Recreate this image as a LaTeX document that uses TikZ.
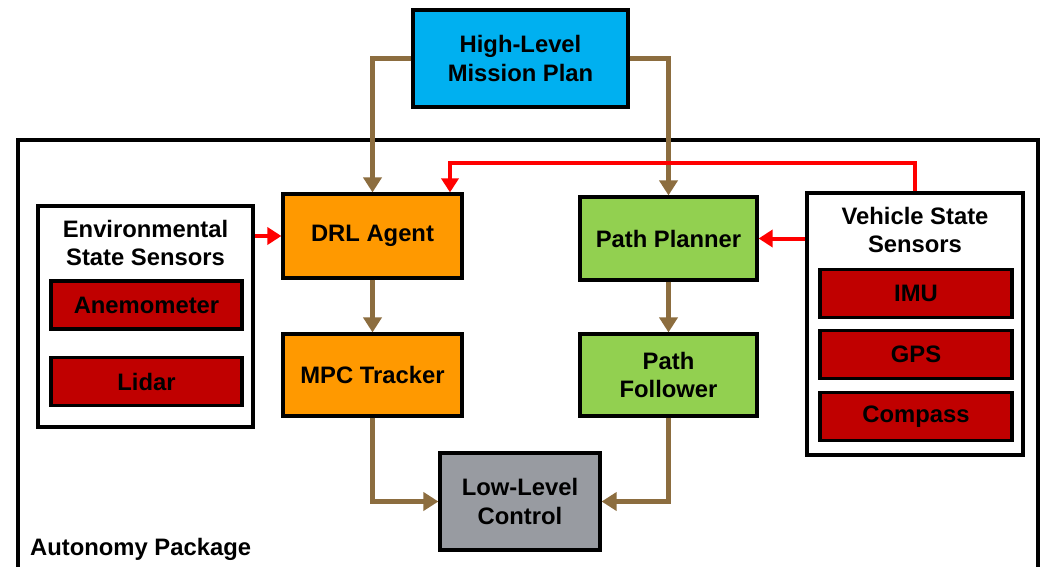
\documentclass[tikz,border=0pt]{standalone}
\usepackage{fontspec}
\setmainfont{Liberation Sans}
\usetikzlibrary{arrows.meta}
\definecolor{cmission}{HTML}{00B0F0}
\definecolor{corange}{HTML}{FF9900}
\definecolor{cgreen}{HTML}{92D050}
\definecolor{cgray}{HTML}{989BA1}
\definecolor{cdred}{HTML}{C00000}
\definecolor{cbrown}{HTML}{8C6D3F}
\definecolor{cred}{HTML}{FF0000}
\tikzset{
  txt/.style={font=\fontsize{23.8}{28.5}\selectfont\bfseries},
  box/.style={draw=black, line width=3.2pt, align=center, txt, inner sep=0pt},
  sensor/.style={box, fill=cdred, minimum width=191pt, minimum height=48pt},
  brownarrow/.style={draw=cbrown, line width=4.5pt, -{Triangle[length=15pt,width=18pt]}},
  redarrow/.style={draw=cred, line width=4pt, -{Triangle[length=14pt,width=17pt]}},
}
\begin{document}
\begin{tikzpicture}[x=1pt,y=-1pt]
\useasboundingbox (0,0) rectangle (1046,567);
% outer package box
\draw[line width=4pt] (18,570) -- (18,140) -- (1038,140) -- (1038,570);
\node[anchor=west, txt, inner sep=0pt] (pkg) at (30,549) {Autonomy Package};
% main nodes
\node[box, fill=cmission, minimum width=215pt, minimum height=97pt] (mission) at (520.5,58.5) {High-Level\\Mission Plan};
\node[box, fill=corange, minimum width=179pt, minimum height=84pt] (drl) at (372.5,236) {DRL Agent};
\node[box, fill=corange, minimum width=179pt, minimum height=82pt] (mpc) at (372.5,375) {MPC Tracker};
\node[box, fill=cgreen, minimum width=177pt, minimum height=83pt] (pp) at (668.5,238.5) {Path Planner};
\node[box, fill=cgreen, minimum width=177pt, minimum height=82pt] (pf) at (668.5,375) {Path\\Follower};
\node[box, fill=cgray, minimum width=160pt, minimum height=97pt] (llc) at (520,501.5) {Low-Level\\Control};
% sensor groups
\node[box, fill=white, minimum width=215pt, minimum height=221pt] (env) at (145.5,316.5) {};
\node[align=center, txt, inner sep=0pt] (envt) at (145.5,243) {Environmental\\State Sensors};
\node[sensor] (anem) at (146.5,305) {Anemometer};
\node[sensor] (lidar) at (146.5,381.5) {Lidar};
\node[box, fill=white, minimum width=216pt, minimum height=262pt] (veh) at (915,324) {};
\node[align=center, txt, inner sep=0pt] (veht) at (915,230) {Vehicle State\\Sensors};
\node[sensor, minimum width=192pt] (imu) at (916,293.5) {IMU};
\node[sensor, minimum width=192pt] (gps) at (916,354.5) {GPS};
\node[sensor, minimum width=192pt] (compass) at (916,416.5) {Compass};
% brown arrows
\draw[brownarrow] (mission.west) -| (drl.north);
\draw[brownarrow] (mission.east) -| (pp.north);
\draw[brownarrow] (drl.south) -- (mpc.north);
\draw[brownarrow] (pp.south) -- (pf.north);
\draw[brownarrow] (mpc.south) |- (llc.west);
\draw[brownarrow] (pf.south) |- (llc.east);
% red arrows
\draw[redarrow] (env.east |- drl.west) -- (drl.west);
\draw[redarrow] (veh.west |- pp.east) -- (pp.east);
\coordinate (redtop) at (450,163);
\draw[redarrow] (veh.north) |- (redtop) -- (redtop |- drl.north);
\end{tikzpicture}
\end{document}
